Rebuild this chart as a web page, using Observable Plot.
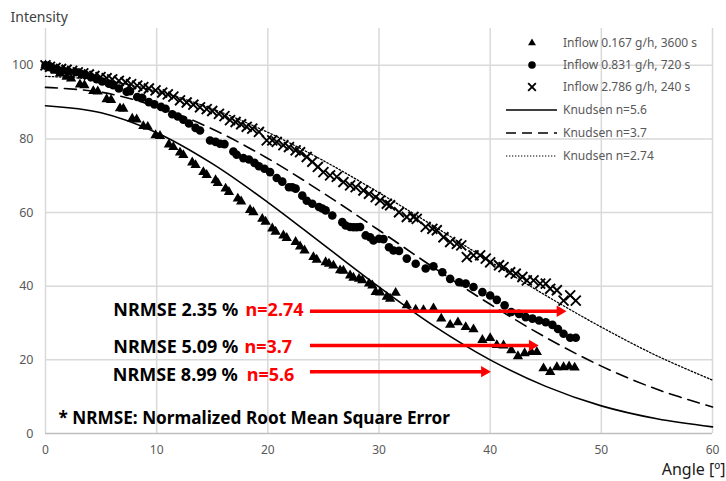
<!DOCTYPE html>
<html>
<head>
<meta charset="utf-8">
<script src="https://cdn.jsdelivr.net/npm/d3@7"></script>
<script src="https://cdn.jsdelivr.net/npm/@observablehq/plot@0.6"></script>
<style>
  body { margin: 0; background: #fff; }
  #chart { width: 726px; height: 481px; }
</style>
</head>
<body>
<div id="chart"></div>
<script>
// Axis ticks
const angleTicks = [0, 10, 20, 30, 40, 50, 60];
const intensityTicks = [0, 20, 40, 60, 80, 100];

// Measured intensity [angle, intensity] for each inflow condition
const inflow167 = [[0.0,100],[0.25,99.6],[0.5,99.2],[0.9,98.5],[1.3,97.8],[1.9,96.9],[2.3,96.4],[3.1,94.8],[3.5,94.6],[4.3,93.0],[4.7,92.9],[5.5,90.8],[5.9,90.6],[6.7,88.3],[7.0,88.2],[7.8,85.5],[8.2,85.3],[8.8,83.5],[9.2,83.3],[9.9,81.0],[10.3,80.8],[11.1,78.5],[11.5,77.8],[12.1,76.3],[12.4,75.6],[13.2,73.6],[13.5,72.9],[14.2,71.0],[14.5,70.2],[15.3,68.8],[15.5,68.0],[16.2,66.5],[16.5,65.6],[17.3,63.8],[17.6,63.0],[18.4,60.7],[18.7,60.1],[19.5,58.3],[19.8,57.5],[20.4,55.7],[20.7,54.8],[21.4,53.8],[21.7,53.1],[22.5,52.0],[22.9,50.8],[23.3,49.7],[24.1,47.9],[24.4,47.2],[25.2,46.5],[25.5,46.1],[25.9,45.6],[26.5,44.3],[26.8,44.2],[27.4,42.9],[27.7,42.3],[28.2,42.0],[28.5,41.6],[29.1,40.7],[29.4,40.2],[29.7,38.4],[30.1,38.3],[30.7,37.1],[31.0,36.6],[31.5,38.2],[32.5,34.8],[33.3,33.6],[34.0,33.5],[34.9,34.0],[35.6,31.2],[36.4,29.5],[37.1,30.2],[37.8,28.9],[38.5,28.3],[39.3,25.4],[40.0,25.9],[40.6,24.0],[41.2,23.9],[41.9,22.6],[42.5,21.0],[43.1,21.8],[43.7,22.1],[44.2,22.1],[44.8,17.7],[45.4,16.7],[46.0,18.0],[46.6,18.0],[47.1,18.2],[47.6,17.9]];

const inflow831 = [[0.0,100],[0.3,99.8],[0.6,99.3],[1.0,99.0],[1.5,98.6],[2.0,98.4],[2.7,98.2],[3.2,97.7],[3.6,97.4],[4.1,96.8],[4.6,96.2],[5.1,95.6],[5.7,95.0],[6.1,94.6],[6.6,93.7],[7.3,92.8],[7.6,93.0],[8.25,91.4],[8.7,91.2],[9.3,90.0],[9.8,89.4],[10.4,88.7],[10.8,88.2],[11.4,86.7],[11.9,86.1],[12.4,85.2],[12.9,84.2],[13.5,83.0],[13.9,82.3],[14.8,79.6],[15.3,79.2],[15.7,78.7],[16.1,78.6],[16.9,76.6],[17.2,75.7],[17.8,74.8],[18.3,74.4],[18.8,73.5],[19.2,72.6],[19.7,71.9],[20.2,71.0],[20.8,69.4],[21.3,68.4],[21.9,66.9],[22.2,66.9],[22.5,66.5],[23.1,64.6],[23.5,63.2],[24.0,62.4],[24.6,61.5],[24.9,61.1],[25.2,60.6],[25.8,59.2],[26.7,57.4],[27.0,56.5],[27.4,56.1],[27.7,56.0],[28.0,56.0],[28.3,56.1],[28.8,53.8],[29.2,53.3],[29.5,52.4],[30.0,52.9],[30.4,52.8],[30.9,50.6],[31.3,49.7],[31.8,49.6],[32.5,47.5],[33.3,46.1],[34.2,44.8],[34.9,45.4],[35.7,43.8],[36.4,42.0],[37.2,41.1],[37.8,40.7],[38.5,39.8],[39.3,38.4],[40.0,37.5],[40.6,36.3],[41.3,34.8],[41.9,33.0],[42.6,32.5],[43.2,31.6],[43.8,31.2],[44.4,30.7],[45.0,30.2],[45.6,29.5],[46.1,28.4],[46.6,27.1],[47.2,26.0],[47.7,26.0]];

const inflow2786 = [[0.0,100],[0.4,99.6],[0.9,99.3],[1.4,99.0],[1.9,98.8],[2.4,98.5],[2.9,98.1],[3.4,97.8],[3.9,97.5],[4.4,97.1],[4.95,96.8],[5.5,96.5],[6.0,96.2],[6.6,95.8],[7.2,95.4],[7.7,94.9],[8.25,94.5],[8.8,94.1],[9.3,93.7],[9.9,93.2],[10.5,92.6],[11.0,92.1],[11.5,91.5],[12.1,90.5],[12.7,89.9],[13.3,89.3],[13.9,88.6],[14.5,88.1],[15.0,87.6],[15.6,86.8],[16.1,86.2],[16.6,85.1],[17.1,84.6],[17.6,84.0],[18.1,83.3],[18.6,82.8],[19.2,81.9],[19.9,79.6],[20.4,79.6],[20.8,79.2],[21.4,78.3],[21.9,77.8],[22.5,76.9],[22.9,76.4],[23.5,75.1],[24.0,73.8],[24.5,72.4],[25.0,71.0],[25.6,70.1],[26.2,69.7],[26.8,68.3],[27.4,67.4],[27.9,66.9],[28.6,66.0],[29.1,65.1],[29.7,64.2],[30.1,63.3],[30.7,62.4],[31.0,62.0],[31.8,60.1],[32.5,58.8],[33.1,58.8],[33.4,58.3],[34.2,56.1],[34.8,55.6],[35.2,55.2],[35.8,53.3],[36.4,52.0],[37.0,51.5],[37.4,51.1],[37.9,47.9],[38.5,48.4],[39.1,48.4],[39.6,47.5],[40.0,46.5],[40.8,45.7],[41.2,45.2],[41.8,43.8],[42.3,43.4],[42.9,42.5],[43.3,41.6],[43.9,41.6],[44.5,40.7],[45.0,40.7],[45.4,39.3],[46.0,38.9],[46.6,36.1],[47.2,37.5],[47.7,36.1]];

// Knudsen model curves sampled every 5 degrees
const knudsenAngle = [0, 5, 10, 15, 20, 25, 30, 35, 40, 45, 50, 55, 60];
const knudsen56  = [89.0, 87.1, 81.7, 73.3, 62.8, 51.3, 39.8, 29.1, 20.0, 12.8, 7.5, 4.0, 1.8];
const knudsen37  = [94.0, 92.7, 88.8, 82.7, 74.7, 65.3, 55.2, 44.9, 35.1, 26.1, 18.3, 12.0, 7.2];
const knudsen274 = [97.0, 96.0, 93.0, 88.2, 81.8, 74.1, 65.4, 56.2, 46.7, 37.5, 28.9, 21.1, 14.5];

// NRMSE annotations
const nrmseLabels = ["NRMSE 2.35 %", "NRMSE 5.09 %", "NRMSE 8.99 %"];
const nLabels = ["n=2.74", "n=3.7", "n=5.6"];
const labelLevel = [33.4, 23.5, 15.8];
const nrmseX = [6.1, 6.1, 6.05];
const nX = [18.0, 17.9, 18.1];
const arrowLevel = [33.2, 23.9, 16.8];
const arrowStart = [24.6, 24.6, 24.6];
const arrowEnd = [47.0, 44.5, 40.2];

const toRows = (xs, ys) => xs.map((x, i) => ({x, y: ys[i]}));
const pts = arr => arr.map(([x, y]) => ({x, y}));

const annotations = nrmseLabels.map((label, i) => ({
  label, n: nLabels[i], ly: labelLevel[i], lx: nrmseX[i], nx: nX[i],
  ay: arrowLevel[i], x1: arrowStart[i], x2: arrowEnd[i]
}));

const font = "'Noto Sans', 'DejaVu Sans', sans-serif";

const svg = Plot.plot({
  width: 726,
  height: 481,
  marginLeft: 45,
  marginRight: 14,
  marginTop: 28,
  marginBottom: 48,
  x: {domain: [0, 60]},
  y: {domain: [0, 110]},
  style: {fontFamily: font, fontSize: "12px", color: "#595959", background: "#fff", overflow: "visible"},
  marks: [
    Plot.ruleX(angleTicks, {stroke: "#d9d9d9", strokeWidth: 1.5}),
    Plot.ruleY(intensityTicks.filter(d => d > 0), {stroke: "#d9d9d9", strokeWidth: 1.5}),
    Plot.ruleY([0], {stroke: "#bfbfbf", strokeWidth: 1.5}),
    Plot.axisX({ticks: angleTicks, tickSize: 0, tickPadding: 12, label: null, fill: "#595959", fontSize: 12}),
    Plot.axisY({ticks: intensityTicks, tickSize: 0, tickPadding: 12, label: null, fill: "#595959", fontSize: 12.5}),

    // Knudsen curves
    Plot.line(toRows(knudsenAngle, knudsen56), {x: "x", y: "y", stroke: "#000", strokeWidth: 1.6, curve: "catmull-rom"}),
    Plot.line(toRows(knudsenAngle, knudsen37), {x: "x", y: "y", stroke: "#000", strokeWidth: 1.6, strokeDasharray: "12,7", curve: "catmull-rom"}),
    Plot.line(toRows(knudsenAngle, knudsen274), {x: "x", y: "y", stroke: "#000", strokeWidth: 1.3, strokeDasharray: "1.5,2", curve: "catmull-rom"}),

    // Measurements
    Plot.dot(pts(inflow2786), {x: "x", y: "y", symbol: "times", r: 4.6, stroke: "#000", strokeWidth: 1.9}),
    Plot.dot(pts(inflow831), {x: "x", y: "y", symbol: "circle", r: 4.3, fill: "#000", stroke: "none"}),
    Plot.dot(pts(inflow167), {x: "x", y: "y", symbol: "triangle2", r: 4.9, fill: "#000", stroke: "none"}),

    // NRMSE arrows
    Plot.link(annotations, {x1: "x1", x2: "x2", y1: "ay", y2: "ay", stroke: "#ff0000", strokeWidth: 3.5, dx: -9}),
    Plot.dot(annotations, {x: "x2", y: "ay", symbol: "triangle2", r: 5.4, rotate: 90, dx: -8, fill: "#ff0000", stroke: "none"}),
    Plot.text(annotations, {x: "lx", y: "ly", text: "label", textAnchor: "start", fontSize: 18, fontWeight: "bold", fill: "#000"}),
    Plot.text(annotations, {x: "nx", y: "ly", text: "n", textAnchor: "start", fontSize: 18, fontWeight: "bold", fill: "#ff0000"}),

    // Footnote and axis titles
    Plot.text(["* NRMSE: Normalized Root Mean Square Error"], {frameAnchor: "bottom-left", dx: 13, dy: -10, textAnchor: "start", fontSize: 17.2, fontWeight: "bold", fill: "#000"}),
    Plot.text(["Intensity"], {frameAnchor: "top-left", dx: -35, dy: -16, textAnchor: "start", fontSize: 14, fill: "#404040"}),
    Plot.text(["Angle [º]"], {frameAnchor: "bottom-right", dx: 13, dy: 30, textAnchor: "end", lineAnchor: "top", lineHeight: 1, fontSize: 16, fill: "#1a1a1a"})
  ]
});

// Legend in the upper right of the plot area
const legendRows = [
  {label: "Inflow 0.167 g/h, 3600 s", kind: "triangle", y: 43},
  {label: "Inflow 0.831 g/h, 720 s", kind: "circle", y: 65},
  {label: "Inflow 2.786 g/h, 240 s", kind: "times", y: 87},
  {label: "Knudsen n=5.6", kind: "solid", y: 110},
  {label: "Knudsen n=3.7", kind: "dashed", y: 133},
  {label: "Knudsen n=2.74", kind: "dotted", y: 156}
];
const legend = d3.select(svg).append("g")
  .attr("font-family", font)
  .attr("font-size", 12)
  .attr("text-anchor", "start");
const item = legend.selectAll("g").data(legendRows).join("g")
  .attr("transform", d => `translate(0,${d.y})`);
item.append("text")
  .attr("x", 563)
  .attr("dy", "0.35em")
  .attr("text-anchor", "start")
  .attr("fill", "#595959")
  .text(d => d.label);
const symbolType = {triangle: d3.symbolTriangle2, circle: d3.symbolCircle, times: d3.symbolTimes};
item.filter(d => symbolType[d.kind]).append("path")
  .attr("transform", "translate(532,0)")
  .attr("d", d => d3.symbol(symbolType[d.kind], d.kind === "times" ? 40 : 45)())
  .attr("fill", d => d.kind === "times" ? "none" : "#000")
  .attr("stroke", d => d.kind === "times" ? "#000" : "none")
  .attr("stroke-width", 1.9);
item.filter(d => !symbolType[d.kind]).append("line")
  .attr("x1", 506).attr("x2", 557)
  .attr("stroke", "#000")
  .attr("stroke-width", d => d.kind === "dotted" ? 1.2 : 1.6)
  .attr("stroke-dasharray", d => d.kind === "dashed" ? "10,6" : d.kind === "dotted" ? "1.3,1.7" : null);

document.getElementById("chart").append(svg);
</script>
</body>
</html>
